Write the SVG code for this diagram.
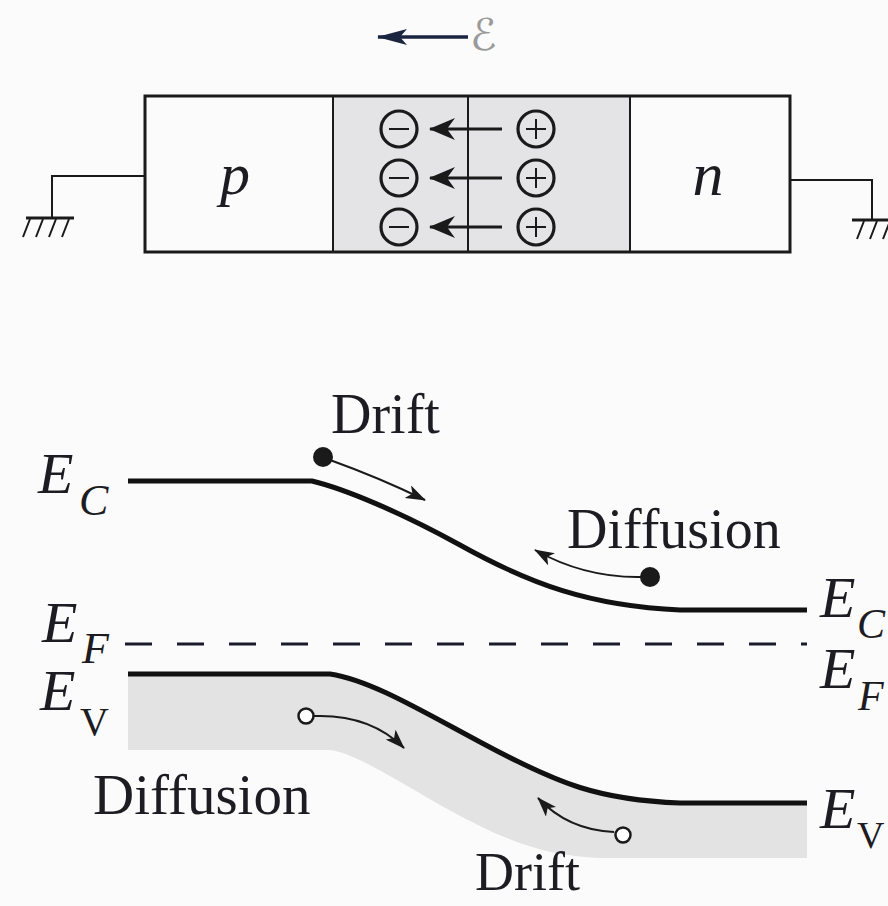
<svg xmlns="http://www.w3.org/2000/svg" width="888" height="906" viewBox="0 0 888 906">
<style>
.ln{fill:none;stroke:#1a1a1a;stroke-width:3}
.thin{fill:none;stroke:#1a1a1a;stroke-width:2}
.band{fill:none;stroke:#111;stroke-width:5}
.t{font-family:"Liberation Serif","DejaVu Serif",serif;fill:#1c1c22}
.it{font-style:italic}
.chg{fill:none;stroke:#1a1a1a;stroke-width:3.2}
</style>
<defs>
<marker id="ah" markerUnits="userSpaceOnUse" markerWidth="20" markerHeight="14" viewBox="0 0 20 14" refX="19" refY="7" orient="auto">
<path d="M0,0 L20,7 L0,14 L5,7 Z" fill="#1a1a1a"/>
</marker>
<marker id="ahc" markerUnits="userSpaceOnUse" markerWidth="26" markerHeight="22" viewBox="0 0 26 22" refX="25" refY="11" orient="auto">
<path d="M0,0 L26,11 L0,22 L8,11 Z" fill="#1a1a1a"/>
</marker>
<marker id="ahf" markerUnits="userSpaceOnUse" markerWidth="30" markerHeight="16" viewBox="0 0 30 16" refX="29" refY="8" orient="auto">
<path d="M0,0 L30,8 L0,16 L7,8 Z" fill="#1c2540"/>
</marker>
</defs>
<rect width="888" height="906" fill="#fbfbfb"/>

<g id="field">
<line x1="468" y1="37" x2="378" y2="37" stroke="#1c2540" stroke-width="3.5" marker-end="url(#ahf)"/>
<text class="t it" x="470" y="50" font-size="44" style="fill:#9a9a9a;font-family:'DejaVu Serif','DejaVu Sans',serif">ℰ</text>
</g>

<g id="depletion">
<rect x="333" y="96" width="297" height="156" fill="#e4e3e5"/>
</g>

<g id="device">
<rect x="145" y="96" width="645" height="156" class="ln"/>
<line x1="333" y1="96" x2="333" y2="252" class="thin"/>
<line x1="468" y1="96" x2="468" y2="252" class="thin"/>
<line x1="630" y1="96" x2="630" y2="252" class="thin"/>
</g>

<g id="p-region"><text class="t it" x="235" y="194" font-size="60" text-anchor="middle">p</text></g>
<g id="n-region"><text class="t it" x="708" y="195" font-size="62" text-anchor="middle">n</text></g>

<g id="charges">
<circle cx="399" cy="129" r="18" class="chg"/><line x1="389" y1="129" x2="409" y2="129" class="thin"/>
<circle cx="399" cy="178" r="18" class="chg"/><line x1="389" y1="178" x2="409" y2="178" class="thin"/>
<circle cx="399" cy="227" r="18" class="chg"/><line x1="389" y1="227" x2="409" y2="227" class="thin"/>
<circle cx="536" cy="129" r="18" class="chg"/><path d="M526,129 H546 M536,119 V139" class="thin"/>
<circle cx="536" cy="178" r="18" class="chg"/><path d="M526,178 H546 M536,168 V188" class="thin"/>
<circle cx="536" cy="227" r="18" class="chg"/><path d="M526,227 H546 M536,217 V237" class="thin"/>
</g>

<g id="ground-left">
<path d="M145,176 H52 V218" class="thin"/>
<line x1="26" y1="218" x2="74" y2="218" class="ln"/>
<path d="M30,219 L23,237 M43,219 L36,237 M56,219 L49,237 M69,219 L62,237" class="thin"/>
</g>
<g id="ground-right">
<path d="M790,180 H872 V220" class="thin"/>
<line x1="852" y1="220" x2="900" y2="220" class="ln"/>
<path d="M864,221 L857,239 M877,221 L870,239 M890,221 L883,239" class="thin"/>
</g>

<g id="valence-fill">
<path d="M128,674 L330,674 C370,680 420,710 480,742 C560,785 600,800 680,803 L807,803 L807,858 L600,858 C540,856 500,838 440,805 C380,770 350,752 330,750 L128,750 Z" fill="#e3e3e3"/>
</g>

<g id="band-EC">
<path d="M128,481 L312,481 C345,489 400,512 460,545 C530,584 590,606 680,610 L807,610" class="band"/>
</g>
<g id="band-EF">
<line x1="125" y1="644" x2="807" y2="644" stroke="#1a1a2a" stroke-width="3" stroke-dasharray="27 25"/>
</g>
<g id="band-EV">
<path d="M128,674 L330,674 C370,680 420,710 480,742 C560,785 600,800 680,803 L807,803" class="band"/>
</g>

<g id="connectors">
<line x1="502" y1="129" x2="430" y2="129" class="ln" marker-end="url(#ahc)"/>
<line x1="502" y1="178" x2="430" y2="178" class="ln" marker-end="url(#ahc)"/>
<line x1="502" y1="227" x2="430" y2="227" class="ln" marker-end="url(#ahc)"/>
<path d="M330,460 Q380,478 425,500" class="thin" marker-end="url(#ah)"/>
<path d="M641,577 Q585,578 535,550" class="thin" marker-end="url(#ah)"/>
<path d="M314,716 Q370,714 404,748" class="thin" marker-end="url(#ah)"/>
<path d="M614,832 Q568,830 538,798" class="thin" marker-end="url(#ah)"/>
</g>

<g id="electron-drift">
<circle cx="323" cy="457" r="10" fill="#1a1a1a"/>
<text class="t" x="331" y="433" font-size="56">Drift</text>
</g>
<g id="electron-diffusion">
<circle cx="650" cy="577" r="10" fill="#1a1a1a"/>
<text class="t" x="567" y="548" font-size="56">Diffusion</text>
</g>
<g id="hole-diffusion">
<circle cx="306" cy="716" r="7.5" fill="#fff" stroke="#1a1a1a" stroke-width="2.5"/>
<text class="t" x="93" y="814" font-size="57">Diffusion</text>
</g>
<g id="hole-drift">
<circle cx="623" cy="835" r="7.5" fill="#fff" stroke="#1a1a1a" stroke-width="2.5"/>
<text class="t" x="475" y="890" font-size="54">Drift</text>
</g>

<g id="labels-left">
<text class="t it" x="38" y="493" font-size="58">E</text><text class="t it" x="79" y="515" font-size="44">C</text>
<text class="t it" x="42" y="642" font-size="58">E</text><text class="t it" x="82" y="663" font-size="44">F</text>
<text class="t it" x="40" y="710" font-size="58">E</text><text class="t" x="80" y="735" font-size="40">V</text>
</g>
<g id="labels-right">
<text class="t it" x="820" y="617" font-size="58">E</text><text class="t it" x="857" y="638" font-size="42">C</text>
<text class="t it" x="820" y="688" font-size="58">E</text><text class="t it" x="858" y="710" font-size="42">F</text>
<text class="t it" x="820" y="828" font-size="58">E</text><text class="t" x="857" y="848" font-size="38">V</text>
</g>
</svg>
